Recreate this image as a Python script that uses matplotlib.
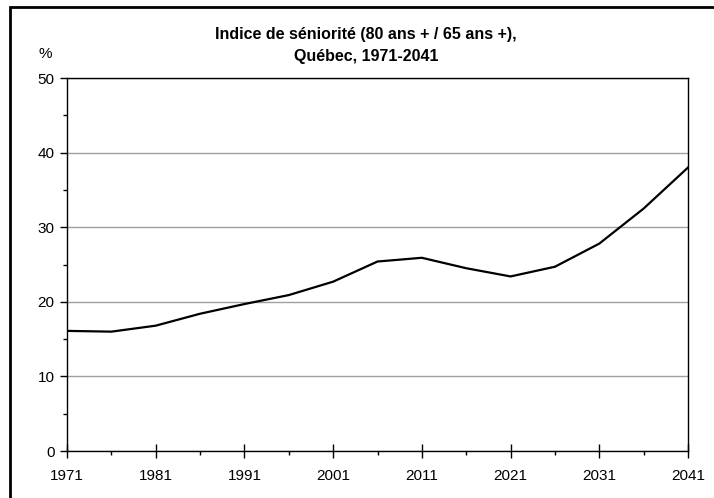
import matplotlib
matplotlib.use("Agg")
from matplotlib import pyplot as plt
from matplotlib.patches import Rectangle
from matplotlib.ticker import MultipleLocator

plt.rcParams['font.family'] = ['Liberation Sans', 'DejaVu Sans']

# annees et indice (80 ans + / 65 ans +), en %
annees = [1971, 1976, 1981, 1986, 1991, 1996, 2001, 2006,
          2011, 2016, 2021, 2026, 2031, 2036, 2041]
indice = [16.1, 16.0, 16.8, 18.4, 19.7, 20.9, 22.7, 25.4,
          25.9, 24.5, 23.4, 24.7, 27.8, 32.5, 38.0]

W, H = 714, 498
fig = plt.figure(figsize=(W / 100, H / 100), dpi=100)
ax = fig.add_axes([67 / W, 1 - 451 / H, (688 - 67) / W, (451 - 78) / H])

ax.plot(annees, indice, color='black', lw=1.6, solid_joinstyle='miter')

ax.set_xlim(1971, 2041)
ax.set_ylim(0, 50)
ax.yaxis.set_major_locator(MultipleLocator(10))
ax.yaxis.set_minor_locator(MultipleLocator(5))
ax.set_xticks(range(1971, 2042, 10))
ax.set_xticks(range(1976, 2042, 10), minor=True)

ax.tick_params(axis='x', which='major', direction='inout', length=10, width=1,
               labelsize=11, pad=8)
ax.tick_params(axis='x', which='minor', direction='out', length=3, width=1)
ax.tick_params(axis='y', which='major', direction='out', length=5, width=1,
               labelsize=11, pad=4)
ax.tick_params(axis='y', which='minor', direction='out', length=3, width=1)

ax.grid(axis='y', which='major', color='#a0a0a0', lw=1)
ax.set_axisbelow(True)
for s in ax.spines.values():
    s.set_color('black')
    s.set_linewidth(1)

fig.text(366 / W, 1 - 35 / H, "Indice de séniorité (80 ans + / 65 ans +),",
         ha='center', va='center', fontsize=11.5, fontweight='bold')
fig.text(366 / W, 1 - 56 / H, "Québec, 1971-2041",
         ha='center', va='center', fontsize=11.5, fontweight='bold')
fig.text(45 / W, 1 - 54 / H, "%", ha='center', va='center', fontsize=11)

# cadre autour du graphique
fig.patches.append(Rectangle((10 / W, -0.1), 1.2, 1 - 7 / H + 0.1,
                             transform=fig.transFigure, fill=False,
                             edgecolor='black', lw=2))

fig.savefig("out.png", dpi=100)
